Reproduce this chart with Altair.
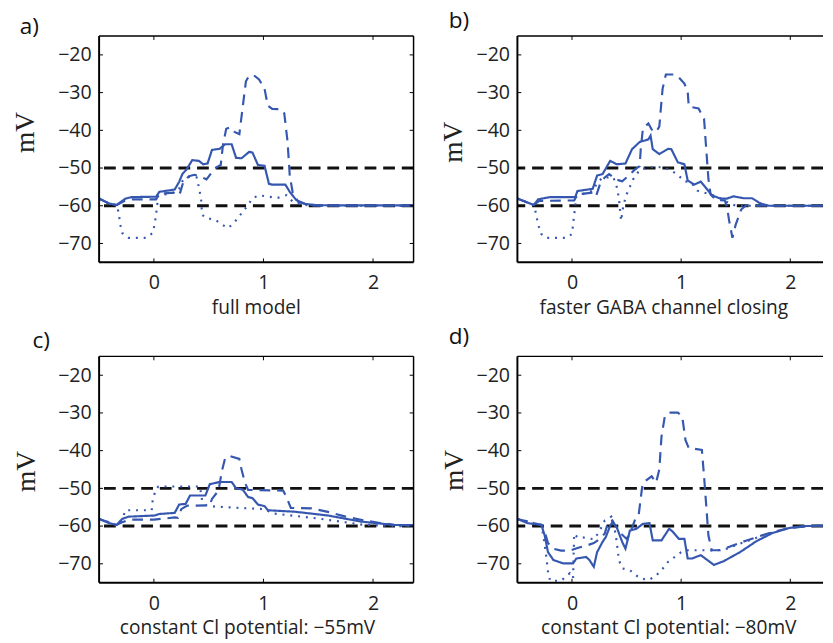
import altair as alt
import pandas as pd

BLUE = "#3557b0"

# ---------------- data ----------------
a_solid_x = [-0.5,-0.41,-0.34,-0.26,-0.2,0.02,0.05,0.19,0.23,0.26,0.30,0.35,0.41,0.45,0.49,0.53,0.60,0.65,0.71,0.75,0.80,0.87,0.90,0.95,1.01,1.05,1.08,1.2,1.24,1.30,1.38,1.47,1.6,2.37]
a_solid_y = [-58.1,-59.4,-59.8,-58.1,-57.7,-57.6,-56.3,-55.7,-53.7,-51.6,-50.3,-47.9,-48.1,-49.0,-48.8,-45.2,-44.9,-43.7,-43.7,-47.3,-47.4,-45.7,-45.9,-49.2,-49.4,-54.2,-54.4,-54.4,-56.3,-58.5,-59.5,-59.8,-59.9,-59.9]
a_dash_x = [-0.5,-0.41,-0.34,-0.26,-0.2,0.02,0.05,0.18,0.21,0.24,0.27,0.32,0.37,0.42,0.48,0.52,0.57,0.61,0.63,0.66,0.70,0.74,0.78,0.81,0.84,0.87,0.92,0.96,1.01,1.04,1.08,1.16,1.19,1.22,1.24,1.27,1.32,1.4,1.5,2.37]
a_dash_y = [-58.1,-59.4,-59.8,-58.6,-58.3,-58.3,-56.8,-56.5,-57.3,-56.5,-53.5,-52.2,-51.8,-52.2,-53.0,-51.5,-49.8,-49.2,-44,-39.6,-39.2,-40.5,-41,-34,-27,-25.5,-25.6,-26.5,-29,-33.5,-34.3,-34.4,-35.5,-43,-52,-57,-59,-59.7,-60,-60]
a_dot_x = [-0.5,-0.41,-0.34,-0.32,-0.31,-0.29,-0.23,-0.14,-0.07,-0.01,0.006,0.02,0.04,0.19,0.23,0.26,0.30,0.35,0.39,0.41,0.43,0.44,0.48,0.56,0.62,0.68,0.74,0.80,0.86,0.90,0.96,1.04,1.13,1.21,1.27,1.38,1.5,2.37]
a_dot_y = [-58.1,-59.4,-59.8,-62,-64.6,-67.2,-68.5,-68.5,-68.5,-67.2,-65,-62.4,-57.3,-56.5,-55.5,-53.5,-52.5,-52.3,-52.5,-55,-58,-62.4,-63.3,-63.7,-65,-65.9,-64.2,-62,-59.8,-58,-57.2,-57.6,-57.9,-57.2,-59,-59.8,-60,-60]

b_solid_x = [-0.5,-0.35,-0.31,-0.2,0.03,0.05,0.19,0.23,0.28,0.35,0.41,0.49,0.55,0.62,0.70,0.72,0.74,0.80,0.88,0.91,0.97,1.03,1.06,1.12,1.18,1.22,1.28,1.36,1.42,1.48,1.57,1.65,1.72,1.8,2.3]
b_solid_y = [-58.1,-59.8,-58.3,-57.7,-57.7,-56.1,-55.5,-52,-51.6,-48.1,-49,-48.8,-45,-43.1,-42.4,-41.4,-45,-46.3,-44.9,-45,-48.5,-49,-53.3,-54.4,-53.6,-55,-57.2,-58.1,-58.1,-57.5,-58,-58,-59.3,-60,-60]
b_dash_x = [-0.5,-0.35,-0.3,0.02,0.05,0.19,0.22,0.26,0.30,0.34,0.40,0.46,0.52,0.58,0.62,0.63,0.65,0.70,0.73,0.77,0.80,0.83,0.86,0.94,0.98,1.03,1.06,1.07,1.16,1.21,1.23,1.25,1.27,1.32,1.40,1.42,1.44,1.47,1.5,1.55,1.6,1.7,2.3]
b_dash_y = [-58.1,-59.8,-58.7,-58.6,-57,-56.5,-57.5,-54,-52.5,-51.6,-53,-53.5,-52,-50.3,-49.5,-45,-39.5,-38.2,-39.8,-40.5,-39,-29,-25.2,-25.2,-26,-27.6,-29.7,-33.7,-34.2,-37,-45,-52.9,-57,-58.5,-58.6,-60.3,-64,-68.5,-65,-61,-59.8,-60,-60]
b_dot_x = [-0.5,-0.35,-0.33,-0.31,-0.28,-0.24,-0.05,0.0,0.01,0.02,0.04,0.19,0.23,0.28,0.35,0.38,0.41,0.43,0.45,0.47,0.50,0.53,0.56,0.62,0.70,0.83,0.90,0.97,1.03,1.09,1.15,1.18,1.27,1.34,1.42,1.5,2.3]
b_dot_y = [-58.1,-59.8,-62,-65,-67.5,-68.5,-68.5,-67.5,-65,-62.5,-57.5,-56,-54,-52.5,-52.5,-52.5,-55,-58,-64,-60,-57,-55,-53,-50.5,-49.8,-49.8,-50.5,-51.8,-53.5,-53.8,-56,-56.3,-57,-57.7,-59,-60,-60]

c_solid_x = [-0.5,-0.41,-0.34,-0.29,-0.23,0.006,0.05,0.19,0.23,0.29,0.33,0.47,0.51,0.6,0.71,0.75,0.81,0.86,0.9,0.95,1.01,1.04,1.29,1.59,1.89,2.19,2.37]
c_solid_y = [-58.1,-59.2,-59.7,-58.1,-57.5,-57.2,-56.8,-56.5,-54.3,-54.1,-51.9,-51.9,-48.9,-48.3,-48.3,-50,-50.3,-52.3,-52.6,-54.3,-54.7,-55.8,-56.2,-57.2,-58.8,-59.7,-59.8]
c_dash_x = [-0.5,-0.34,-0.29,-0.23,0.0,0.19,0.22,0.25,0.30,0.51,0.53,0.59,0.62,0.65,0.69,0.78,0.80,0.83,0.86,1.18,1.21,1.25,1.44,1.6,1.75,1.92,2.05,2.2,2.37]
c_dash_y = [-58.1,-59.7,-59,-58.3,-58.3,-57.7,-57.8,-55.5,-54.6,-54.5,-52.8,-50.6,-45.5,-42,-41.4,-42.2,-45,-48.4,-50.4,-50.6,-52.3,-55.2,-55.3,-56.3,-57.5,-58.5,-59.1,-59.7,-59.8]
c_dot_x = [-0.5,-0.34,-0.29,-0.26,-0.02,-0.01,0.02,0.04,0.42,0.44,0.48,0.57,0.6,1.0,1.1,1.5,1.9,2.2,2.37]
c_dot_y = [-58.1,-59.7,-58.5,-55.8,-55.8,-52.8,-50.2,-49.5,-49.5,-53.2,-54.5,-54.9,-54.9,-55.5,-56.7,-58,-59.6,-60,-60]

d_solid_x = [-0.5,-0.41,-0.28,-0.25,-0.22,-0.17,-0.08,0.01,0.04,0.13,0.16,0.2,0.23,0.28,0.31,0.35,0.37,0.41,0.46,0.49,0.52,0.53,0.59,0.65,0.71,0.74,0.82,0.89,0.92,0.98,1.03,1.06,1.1,1.18,1.24,1.3,1.39,1.54,1.69,1.84,1.99,2.13,2.3]
d_solid_y = [-58.1,-59.2,-59.7,-62.5,-66.9,-69,-69.9,-69.9,-68.6,-68.2,-69,-70.8,-66.9,-64.2,-62.9,-59.9,-59,-60.3,-64.2,-66,-62.5,-61.2,-60.7,-59.4,-59.2,-63.8,-63.8,-60.7,-61.4,-63.4,-63.4,-68.6,-68.6,-67.7,-69,-70.3,-69.3,-66.9,-64,-61.8,-60.5,-60,-59.9]
d_dash_x = [-0.5,-0.28,-0.25,-0.22,-0.17,-0.1,-0.02,0.05,0.15,0.2,0.25,0.3,0.33,0.37,0.4,0.45,0.5,0.53,0.58,0.61,0.64,0.65,0.73,0.77,0.8,0.82,0.85,0.89,0.97,1.01,1.04,1.07,1.19,1.21,1.23,1.25,1.28,1.36,1.48,1.6,1.78,1.96,2.13,2.3]
d_dash_y = [-58.1,-59.7,-61.5,-64.5,-66,-66.5,-66.5,-65.8,-65,-64.5,-63.5,-62,-59,-58.5,-60,-62,-63.4,-62,-58.1,-57.3,-50.3,-48.5,-46.8,-48.5,-45,-36.3,-31,-29.9,-29.9,-31,-37.2,-39.3,-39.8,-46.8,-54.6,-62.5,-66.4,-66.4,-65.1,-63.8,-62.1,-60.7,-60.1,-59.9]
d_dot_x = [-0.5,-0.28,-0.26,-0.24,-0.22,-0.2,-0.1,-0.02,0.01,0.02,0.05,0.1,0.2,0.25,0.3,0.36,0.4,0.43,0.46,0.53,0.62,0.7,0.76,0.82,0.88,0.94,1.0,1.06,1.15,1.24,1.3,1.4,1.6,1.8,2.0,2.13,2.3]
d_dot_y = [-58.1,-59.7,-63,-67,-72,-74.5,-74.5,-72.5,-73.8,-62,-63,-63,-63.5,-61.5,-58.5,-57.5,-62,-69,-71.2,-71.7,-73.8,-74.3,-73.4,-71.7,-69.5,-68.2,-66.9,-66.4,-66.4,-66.4,-66.5,-66.2,-64,-62,-60.5,-60,-59.9]

thresholds = [-50, -60]
y_ticks = [-70, -60, -50, -40, -30, -20]
x_ticks = [0, 1, 2]
y_domain = [-75, -15]

panel_labels = ["a)", "b)", "c)", "d)"]
x_titles = ["full model", "faster GABA channel closing",
            "constant Cl potential: \u221255mV", "constant Cl potential: \u221280mV"]

H = 231


def series_df(sx, sy, dx, dy, ox, oy):
    rows = []
    for name, xs, ys in (("solid", sx, sy), ("dashed", dx, dy), ("dotted", ox, oy)):
        for i, (x, y) in enumerate(zip(xs, ys)):
            rows.append({"x": x, "y": y, "style": name, "i": i})
    return pd.DataFrame(rows)


def panel(df, label, xtitle, xdom, W, lab_x, lab_y, ytx, yty, xtx, right_border):
    xs = alt.Scale(domain=xdom, nice=False, zero=False)
    ys = alt.Scale(domain=y_domain, nice=False, zero=False)
    xax = alt.Axis(
        values=x_ticks, format="d", ticks=False, domain=False, grid=False,
        labelPadding=11, labelFont="Open Sans", labelFontSize=20, labelColor="#222222",
        title=xtitle, titleFont="Open Sans", titleFontSize=19.5, titleFontWeight="normal",
        titleColor="#222222", titleX=xtx, titleY=52, titleBaseline="alphabetic",
        titleAlign="center")
    yax = alt.Axis(
        values=y_ticks, ticks=False, domain=False, grid=False,
        labelPadding=8, labelFont="Open Sans", labelFontSize=20, labelColor="#222222",
        title="mV", titleFont="Liberation Serif", titleFontSize=28, titleFontWeight="normal",
        titleColor="#222222", titleX=ytx, titleY=yty, titleAngle=270,
        titleAlign="center", titleBaseline="middle")
    one = pd.DataFrame({"k": [0]})

    thr = alt.Chart(pd.DataFrame({"v": thresholds})).mark_rule(
        color="#111111", strokeWidth=3, strokeDash=[12, 7]
    ).encode(y=alt.Y("v:Q", scale=ys, axis=yax))

    lines = alt.Chart(df).mark_line(color=BLUE, clip=True).encode(
        x=alt.X("x:Q", scale=xs, axis=xax),
        y=alt.Y("y:Q", scale=ys, axis=yax),
        strokeDash=alt.StrokeDash("style:N", scale=alt.Scale(
            domain=["solid", "dashed", "dotted"], range=[[1, 0], [11, 7], [2, 6]]), legend=None),
        strokeWidth=alt.StrokeWidth("style:N", scale=alt.Scale(
            domain=["solid", "dashed", "dotted"], range=[2.2, 2.2, 1.7]), legend=None),
        order="i:Q",
    )

    tl = 4
    yt = alt.Chart(pd.DataFrame({"v": y_ticks}))
    xt = alt.Chart(pd.DataFrame({"v": x_ticks}))
    ticks = [
        yt.mark_rule(color="black", strokeWidth=1).encode(
            y=alt.Y("v:Q", scale=ys, axis=yax), x=alt.value(0), x2=alt.value(tl)),
        xt.mark_rule(color="black", strokeWidth=1).encode(
            x=alt.X("v:Q", scale=xs, axis=xax), y=alt.value(H - tl), y2=alt.value(H)),
        xt.mark_rule(color="black", strokeWidth=1).encode(
            x=alt.X("v:Q", scale=xs, axis=xax), y=alt.value(0), y2=alt.value(tl)),
    ]
    base1 = alt.Chart(one)
    frame = [
        base1.mark_rule(color="black", strokeWidth=2).encode(
            x=alt.value(0), y=alt.value(0), y2=alt.value(H)),
        base1.mark_rule(color="black", strokeWidth=2).encode(
            x=alt.value(0), x2=alt.value(W), y=alt.value(H)),
        base1.mark_rule(color="black", strokeWidth=1.5).encode(
            x=alt.value(0), x2=alt.value(W), y=alt.value(0)),
    ]
    if right_border:
        ticks.append(yt.mark_rule(color="black", strokeWidth=1).encode(
            y=alt.Y("v:Q", scale=ys, axis=yax), x=alt.value(W - tl), x2=alt.value(W)))
        frame.append(base1.mark_rule(color="black", strokeWidth=1.5).encode(
            x=alt.value(W), y=alt.value(0), y2=alt.value(H)))

    lab = alt.Chart(pd.DataFrame({"label": [label]})).mark_text(
        align="left", baseline="alphabetic", font="Open Sans", fontSize=23, color="#111111"
    ).encode(text="label:N", x=alt.value(lab_x), y=alt.value(lab_y))

    return alt.layer(thr, lines, *ticks, *frame, lab).properties(width=W, height=H)


pa = panel(series_df(a_solid_x, a_solid_y, a_dash_x, a_dash_y, a_dot_x, a_dot_y),
           panel_labels[0], x_titles[0], [-0.5, 2.37], 321, -81, -2, -74.5, 98, 160, True)
pb = panel(series_df(b_solid_x, b_solid_y, b_dash_x, b_dash_y, b_dot_x, b_dot_y),
           panel_labels[1], x_titles[1], [-0.5, 2.3], 312, -70, -8, -65, 108, 149, False)
pc = panel(series_df(c_solid_x, c_solid_y, c_dash_x, c_dash_y, c_dot_x, c_dot_y),
           panel_labels[2], x_titles[2], [-0.5, 2.37], 321, -68, -9, -74, 117, 151, True)
pd_ = panel(series_df(d_solid_x, d_solid_y, d_dash_x, d_dash_y, d_dot_x, d_dot_y),
            panel_labels[3], x_titles[3], [-0.5, 2.3], 312, -70, -13, -64.5, 116, 154, False)

chart = alt.concat(
    pa, pb, pc, pd_, columns=2,
    spacing={"row": 96, "column": 106}, bounds="flush",
).configure_view(stroke=None).properties(
    padding={"left": 4, "top": -4, "right": 0, "bottom": 0},
    background="white",
)

chart.save("out.html", embed_options={"renderer": "svg", "actions": False})
